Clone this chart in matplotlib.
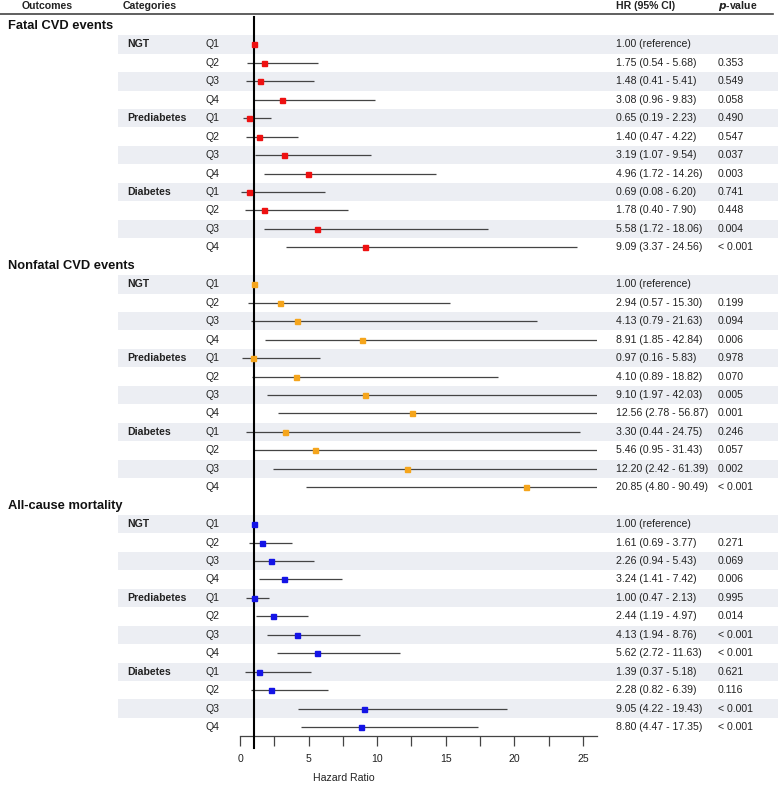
'''Forest plot of hazard ratios by glycaemic status and quartile'''
import matplotlib.pyplot as plt
from matplotlib.lines import Line2D
from matplotlib import transforms

plt.rcParams['font.family'] = ['Liberation Sans', 'DejaVu Sans']

outcomes = ['Fatal CVD events', 'Nonfatal CVD events', 'All-cause mortality']
groups = ['NGT', 'Prediabetes', 'Diabetes']
quartiles = ['Q1', 'Q2', 'Q3', 'Q4']

fatal_hr = [1.00, 1.75, 1.48, 3.08, 0.65, 1.40, 3.19, 4.96, 0.69, 1.78, 5.58, 9.09]
fatal_lo = [1.00, 0.54, 0.41, 0.96, 0.19, 0.47, 1.07, 1.72, 0.08, 0.40, 1.72, 3.37]
fatal_hi = [1.00, 5.68, 5.41, 9.83, 2.23, 4.22, 9.54, 14.26, 6.20, 7.90, 18.06, 24.56]
fatal_p = ['', '0.353', '0.549', '0.058', '0.490', '0.547', '0.037', '0.003',
           '0.741', '0.448', '0.004', '< 0.001']

nonfatal_hr = [1.00, 2.94, 4.13, 8.91, 0.97, 4.10, 9.10, 12.56, 3.30, 5.46, 12.20, 20.85]
nonfatal_lo = [1.00, 0.57, 0.79, 1.85, 0.16, 0.89, 1.97, 2.78, 0.44, 0.95, 2.42, 4.80]
nonfatal_hi = [1.00, 15.30, 21.63, 42.84, 5.83, 18.82, 42.03, 56.87, 24.75, 31.43, 61.39, 90.49]
nonfatal_p = ['', '0.199', '0.094', '0.006', '0.978', '0.070', '0.005', '0.001',
              '0.246', '0.057', '0.002', '< 0.001']

death_hr = [1.00, 1.61, 2.26, 3.24, 1.00, 2.44, 4.13, 5.62, 1.39, 2.28, 9.05, 8.80]
death_lo = [1.00, 0.69, 0.94, 1.41, 0.47, 1.19, 1.94, 2.72, 0.37, 0.82, 4.22, 4.47]
death_hi = [1.00, 3.77, 5.43, 7.42, 2.13, 4.97, 8.76, 11.63, 5.18, 6.39, 19.43, 17.35]
death_p = ['', '0.271', '0.069', '0.006', '0.995', '0.014', '< 0.001', '< 0.001',
           '0.621', '0.116', '< 0.001', '< 0.001']

colors = ['#ee1111', '#f5a51c', '#1414e6']
xticks = [0, 2.5, 5, 7.5, 10, 12.5, 15, 17.5, 20, 22.5, 25]
xticklabels = ['0', '', '5', '', '10', '', '15', '', '20', '', '25']

data = [(fatal_hr, fatal_lo, fatal_hi, fatal_p),
        (nonfatal_hr, nonfatal_lo, nonfatal_hi, nonfatal_p),
        (death_hr, death_lo, death_hi, death_p)]

W, H = 778, 785
fig = plt.figure(figsize=(W / 100, H / 100), dpi=100)
row_h = 18.45
y0 = 26  # pixel y of first outcome title
ax_top, ax_bot = 17, 736
x_left, x_right, xmax = 240, 596.7, 26
ax = fig.add_axes([x_left / W, 1 - ax_bot / H, (x_right - x_left) / W,
                   (ax_bot - ax_top) / H])
ax.set_xlim(0, xmax)
ax.set_ylim((ax_bot - y0) / row_h, (ax_top - y0) / row_h)

tr = transforms.blended_transform_factory(fig.transFigure, ax.transData)
fs = 7.6
tc = '#222222'
p_x = 718

row = 0
for k, (hr, lo, hi, pv) in enumerate(data):
    ax.text(8 / W, row, outcomes[k], transform=tr, fontsize=9.3,
            fontweight='bold', va='center', color='#111111')
    for i in range(12):
        r = row + 1 + i
        if i % 2 == 0:
            ax.axhspan(r - 0.5, r + 0.5, xmin=(118 - x_left) / (x_right - x_left),
                       xmax=(W - x_left) / (x_right - x_left),
                       color='#eceef3', lw=0, zorder=0, clip_on=False)
        if i % 4 == 0:
            ax.text(127 / W, r, groups[i // 4], transform=tr, fontsize=fs,
                    fontweight='bold', va='center', color=tc)
        ax.text(206 / W, r, quartiles[i % 4], transform=tr, fontsize=fs,
                va='center', color=tc)
        if i == 0:
            label = f'{hr[i]:.2f} (reference)'
        else:
            label = f'{hr[i]:.2f} ({lo[i]:.2f} - {hi[i]:.2f})'
            ax.plot([lo[i], min(hi[i], xmax)], [r, r], color='#444444',
                    lw=0.9, zorder=2, solid_capstyle='butt')
        ax.plot(hr[i], r, marker='s', ms=3.6, color=colors[k], mec=colors[k],
                zorder=4, clip_on=False)
        ax.text(616 / W, r, label, transform=tr, fontsize=fs, va='center',
                color=tc)
        ax.text(p_x / W, r, pv[i], transform=tr, fontsize=fs, va='center',
                color=tc)
    row += 13

# reference line at HR = 1
ax.plot([1, 1], [ax.get_ylim()[1], (748 - y0) / row_h], color='black', lw=1.5,
        zorder=3, clip_on=False)

# header
hy = (6 - y0) / row_h
ax.text(22 / W, hy, 'Outcomes', transform=tr, fontsize=fs, fontweight='bold',
        va='center', color=tc)
ax.text(123 / W, hy, 'Categories', transform=tr, fontsize=fs, fontweight='bold',
        va='center', color=tc)
ax.text(616 / W, hy, 'HR (95% CI)', transform=tr, fontsize=fs, fontweight='bold',
        va='center', color=tc)
ax.text(p_x / W, hy, r'$\mathbfit{p}$-value', transform=tr, fontsize=fs,
        fontweight='bold', va='center', color=tc)
fig.add_artist(Line2D([0, 773 / W], [1 - 14 / H, 1 - 14 / H], color='#444444',
                      lw=1.2))

for side in ['left', 'top', 'right']:
    ax.spines[side].set_visible(False)
ax.spines['bottom'].set_color('#444444')
ax.spines['bottom'].set_linewidth(0.9)
ax.set_yticks([])
ax.set_xticks(xticks)
ax.set_xticklabels(xticklabels, fontsize=fs, color=tc)
ax.tick_params(axis='x', length=7, width=0.9, color='#444444', pad=6)
ax.text(7.6, (778 - y0) / row_h, 'Hazard Ratio', fontsize=fs, color=tc,
        ha='center', va='center')
ax.set_facecolor('none')

fig.savefig('out.png', dpi=100)
